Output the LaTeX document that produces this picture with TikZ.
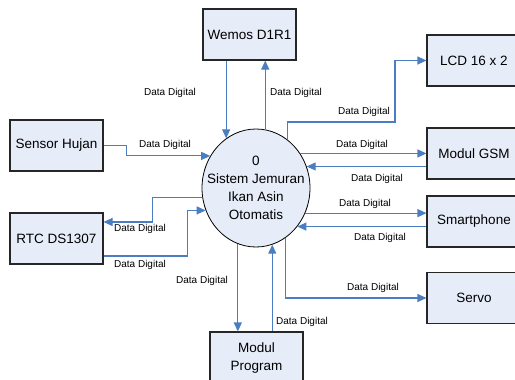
\documentclass[tikz,border=0pt]{standalone}
\usepackage{fontspec}
\setmainfont{Liberation Sans}
\usetikzlibrary{shapes.geometric, arrows.meta}
\definecolor{boxfill}{RGB}{230,236,248}
\definecolor{flowblue}{RGB}{74,126,193}

\begin{document}
\begin{tikzpicture}[x=1pt, y=-1pt,
  ent/.style={draw=black!85, line width=1.1pt, fill=boxfill, minimum width=93pt,
    minimum height=51pt, inner sep=0pt, align=center,
    font=\fontsize{13.5}{18}\selectfont},
  flow/.style={flowblue, line width=1.1pt, -{Triangle[length=9pt,width=8pt]}},
  lbl/.style={font=\fontsize{10}{12}\selectfont, inner sep=1pt}]
\useasboundingbox (0,0) rectangle (515,380);
\clip (0,0) rectangle (515,380);

\node[draw, ellipse, fill=boxfill, line width=0.8pt, minimum width=108pt,
  minimum height=118pt, inner sep=0pt] (sistem) at (256,188) {};
\node[align=center, font=\fontsize{13.5}{18}\selectfont] (sistemtxt) at (sistem.center)
  {0\\Sistem Jemuran\\Ikan Asin\\Otomatis};

\node[ent] (wemos) at (249.5,34.5) {Wemos D1R1};
\node[ent] (sensor) at (56.5,145.5) {Sensor Hujan};
\node[ent] (rtc) at (56.5,238.5) {RTC DS1307};
\node[ent, minimum width=94pt] (lcd) at (474,60.5) {LCD 16 x 2};
\node[ent, minimum width=94pt] (gsm) at (474,153.5) {Modul GSM};
\node[ent, minimum width=94pt] (phone) at (474,221.5) {Smartphone};
\node[ent, minimum width=94pt] (servo) at (474,298) {Servo};
\node[ent, minimum height=52pt] (program) at (256.5,358) {Modul\\Program};

% aliran data
\draw[flow] (wemos.south -| sistem.121) -- (sistem.121);
\draw[flow] (sistem.81) -- (sistem.81 |- wemos.south);
\draw[flow] (sensor.east) -- ++(23,0) |- (sistem.145);
\draw[flow] (sistem.57) |- (395,122) |- (lcd.west);
\draw[flow] (sistem.38) -- (sistem.38 -| gsm.west);
\draw[flow] (sistem.23 -| gsm.west) -- (sistem.23);
\draw[flow] (sistem.333) -- (sistem.333 -| phone.west);
\draw[flow] (sistem.317 -| phone.west) -- (sistem.317);
\draw[flow] (sistem.301) |- (servo.west);
\draw[flow] (sistem.286 |- program.north) -- (sistem.286);
\draw[flow] (sistem.252) -- (sistem.252 |- program.north);
\draw[flow] (sistem.190) -- ++(-50,0) |- ([yshift=16.5pt]rtc.east);
\draw[flow] ([yshift=-17.5pt]rtc.east) -- ++(84,0) |- (sistem.204);

\node[lbl] (d1) at (170,93) {Data Digital};
\node[lbl] (d2) at (296,93) {Data Digital};
\node[lbl] (d3) at (165,145) {Data Digital};
\node[lbl] (d4) at (364,112) {Data Digital};
\node[lbl] (d5) at (362,145) {Data Digital};
\node[lbl] (d6) at (377,179) {Data Digital};
\node[lbl] (d7) at (365,204) {Data Digital};
\node[lbl] (d8) at (380,238) {Data Digital};
\node[lbl] (d9) at (373,288) {Data Digital};
\node[lbl] (d10) at (302,322) {Data Digital};
\node[lbl] (d11) at (202,281) {Data Digital};
\node[lbl] (d12) at (140,229) {Data Digital};
\node[lbl] (d13) at (140,265) {Data Digital};

\end{tikzpicture}
\end{document}
